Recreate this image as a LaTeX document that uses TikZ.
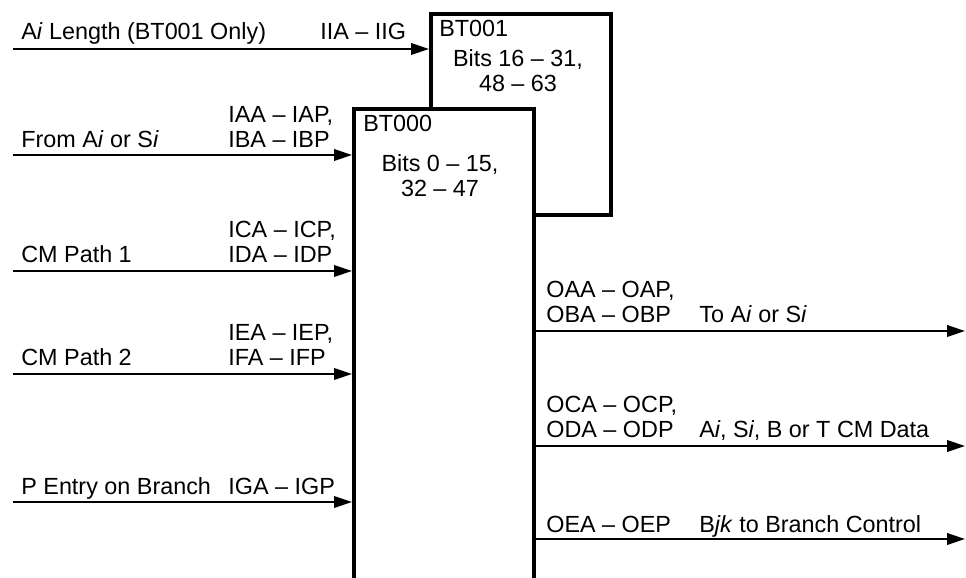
\documentclass[tikz,border=0pt]{standalone}
\usepackage{fontspec}
\setmainfont{Liberation Sans}
\usetikzlibrary{arrows.meta,positioning}

\begin{document}
\begin{tikzpicture}[
    every node/.style={font=\fontsize{13.3}{14.6}\selectfont, inner sep=0pt},
    box/.style={draw, line width=2.3pt, fill=white, anchor=north west, minimum width=3.6cm},
    sig/.style={line width=1.3pt, -{Triangle[length=3.6mm,width=2.3mm]}},
    lbl/.style={anchor=base west, align=left}
]
    \useasboundingbox (0,0) rectangle (19.32,-11.56);
    \clip (0,0) rectangle (19.32,-11.56);

    % --- Buffer boxes (BT000 overlaps BT001) ---
    \node[box, minimum height=4.02cm] (bt001) at (8.58,-0.24) {};
    \node[box, minimum height=9.8cm] (bt000) at (7.04,-2.14) {};
    \node[lbl] (n001) at (8.78,-0.74) {BT001};
    \node[anchor=base, align=center] (b001) at (10.36,-1.84) {Bits 16 -- 31,\\48 -- 63};
    \node[lbl] (n000) at (7.26,-2.64) {BT000};
    \node[anchor=base, align=center] (b000) at (8.80,-3.94) {Bits 0 -- 15,\\32 -- 47};

    % --- Inputs (left) ---
    \coordinate (i1) at (0.25,-0.98);
    \coordinate (i2) at (0.25,-3.10);
    \coordinate (i3) at (0.25,-5.42);
    \coordinate (i4) at (0.25,-7.48);
    \coordinate (i5) at (0.25,-10.04);
    \draw[sig] (i1) -- (i1 -| bt001.west);
    \draw[sig] (i2) -- (i2 -| bt000.west);
    \draw[sig] (i3) -- (i3 -| bt000.west);
    \draw[sig] (i4) -- (i4 -| bt000.west);
    \draw[sig] (i5) -- (i5 -| bt000.west);

    \node[lbl] (l1) at (0.42,-0.80) {A\textit{i} Length (BT001 Only)};
    \node[lbl] (c1) at (6.40,-0.80) {IIA -- IIG};
    \node[lbl] (l2) at (0.42,-2.96) {From A\textit{i} or S\textit{i}};
    \node[lbl] (c2) at (4.56,-2.96) {IAA -- IAP,\\IBA -- IBP};
    \node[lbl] (l3) at (0.42,-5.26) {CM Path 1};
    \node[lbl] (c3) at (4.56,-5.26) {ICA -- ICP,\\IDA -- IDP};
    \node[lbl] (l4) at (0.42,-7.32) {CM Path 2};
    \node[lbl] (c4) at (4.56,-7.32) {IEA -- IEP,\\IFA -- IFP};
    \node[lbl] (l5) at (0.42,-9.88) {P Entry on Branch};
    \node[lbl] (c5) at (4.56,-9.88) {IGA -- IGP};

    % --- Outputs (right) ---
    \coordinate (o1) at (19.30,-6.62);
    \coordinate (o2) at (19.30,-8.92);
    \coordinate (o3) at (19.30,-10.78);
    \draw[sig] (o1 -| bt000.east) -- (o1);
    \draw[sig] (o2 -| bt000.east) -- (o2);
    \draw[sig] (o3 -| bt000.east) -- (o3);

    \node[lbl] (d1) at (10.92,-6.46) {OAA -- OAP,\\OBA -- OBP};
    \node[lbl] (t1) at (13.98,-6.46) {To A\textit{i} or S\textit{i}};
    \node[lbl] (d2) at (10.92,-8.76) {OCA -- OCP,\\ODA -- ODP};
    \node[lbl] (t2) at (13.98,-8.76) {A\textit{i}, S\textit{i}, B or T CM Data};
    \node[lbl] (d3) at (10.92,-10.64) {OEA -- OEP};
    \node[lbl] (t3) at (13.98,-10.64) {B\textit{jk} to Branch Control};
\end{tikzpicture}
\end{document}
